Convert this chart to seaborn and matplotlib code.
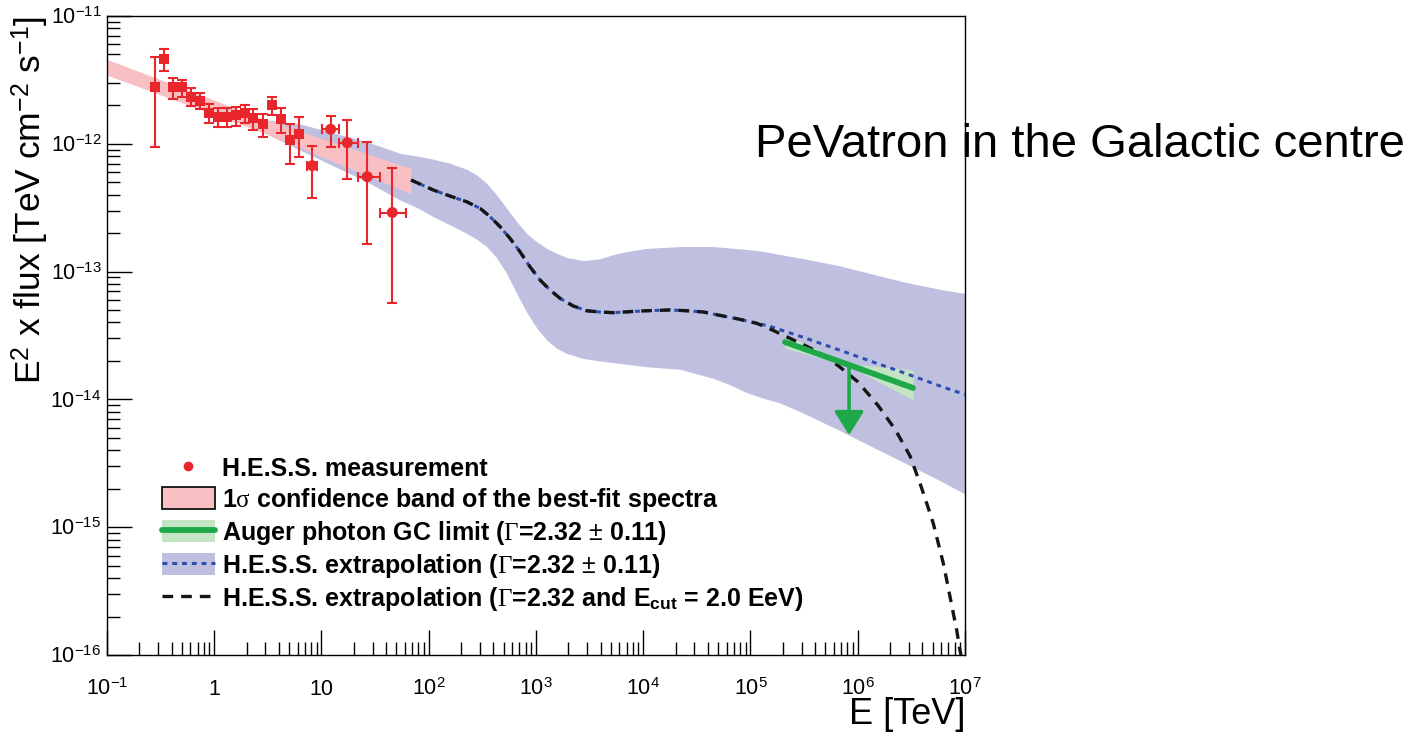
import numpy as np
import pandas as pd
import seaborn as sns
import matplotlib
matplotlib.use("Agg")
import matplotlib.pyplot as plt
from matplotlib.lines import Line2D
from matplotlib.patches import Patch
from matplotlib.ticker import LogLocator, NullFormatter, FixedLocator, FixedFormatter

# ---------------------------------------------------------------- data
# H.E.S.S. spectral points, low-energy part (square markers)
sq_E = [0.280, 0.342, 0.410, 0.497, 0.603, 0.736, 0.893, 1.091, 1.306, 1.595,
        1.935, 2.313, 2.830, 3.434, 4.165, 5.085, 6.17]
sq_F = [2.77e-12, 4.61e-12, 2.77e-12, 2.77e-12, 2.34e-12, 2.17e-12, 1.73e-12,
        1.63e-12, 1.63e-12, 1.68e-12, 1.73e-12, 1.58e-12, 1.43e-12, 2.01e-12,
        1.56e-12, 1.07e-12, 1.19e-12]
sq_hi = [4.76e-12, 5.52e-12, 3.29e-12, 3.16e-12, 2.72e-12, 2.48e-12, 2.05e-12,
         1.90e-12, 1.90e-12, 1.93e-12, 2.01e-12, 1.87e-12, 1.71e-12, 2.34e-12,
         1.92e-12, 1.43e-12, 1.61e-12]
sq_lo = [9.5e-13, 3.71e-12, 2.25e-12, 2.34e-12, 1.98e-12, 1.86e-12, 1.45e-12,
         1.36e-12, 1.36e-12, 1.38e-12, 1.46e-12, 1.28e-12, 1.14e-12, 1.68e-12,
         1.22e-12, 6.95e-13, 7.83e-13]

# H.E.S.S. spectral points, high-energy part (round markers, with bin widths)
ci_E = [8.21, 12.18, 17.40, 26.7, 45.7]
ci_E_lo = [7.37, 10.04, 14.55, 21.8, 35.1]
ci_E_hi = [9.14, 14.66, 22.0, 35.1, 61.1]
ci_F = [6.75e-13, 1.30e-12, 1.02e-12, 5.53e-13, 2.90e-13]
ci_hi = [9.66e-13, 1.66e-12, 1.53e-12, 1.03e-12, 6.50e-13]
ci_lo = [3.75e-13, 9.48e-13, 5.35e-13, 1.64e-13, 5.71e-14]

# 1 sigma band of the best-fit spectrum
fit_E = [0.1, 2.97, 68.3]
fit_hi = [4.58e-12, 1.55e-12, 6.41e-13]
fit_lo = [3.45e-12, 1.21e-12, 4.08e-13]

# extrapolation band (Gamma = 2.32 +- 0.11), absorption included
ext_E = [1.977, 6.30, 26.4, 53.9, 77.2, 110.3, 157.8, 225.8, 280.0, 347.0,
         430.1, 533.2, 660.7, 819.0, 1015, 1258, 1560, 1933, 2761, 3951,
         5257, 7523, 10770, 22010, 44990, 64410, 92170, 1.317e5, 1.884e5,
         3.141e5, 6.503e5, 1.344e6, 2.782e6, 5.746e6, 1.0e7]
ext_hi = [1.62e-12, 1.43e-12, 1.04e-12, 8.43e-13, 8.03e-13, 7.57e-13, 7.04e-13,
          6.32e-13, 5.70e-13, 4.91e-13, 3.98e-13, 3.13e-13, 2.46e-13, 1.99e-13,
          1.71e-13, 1.52e-13, 1.39e-13, 1.29e-13, 1.22e-13, 1.26e-13, 1.36e-13,
          1.45e-13, 1.52e-13, 1.57e-13, 1.57e-13, 1.53e-13, 1.49e-13, 1.44e-13,
          1.36e-13, 1.26e-13, 1.12e-13, 9.61e-14, 8.25e-14, 7.29e-14, 6.74e-14]
ext_lo = [1.43e-12, 8.94e-13, 5.05e-13, 3.63e-13, 3.18e-13, 2.69e-13, 2.32e-13,
          1.99e-13, 1.79e-13, 1.57e-13, 1.28e-13, 9.66e-14, 6.74e-14, 4.80e-14,
          3.63e-14, 2.91e-14, 2.51e-14, 2.29e-14, 2.09e-14, 2.00e-14, 1.94e-14,
          1.87e-14, 1.80e-14, 1.72e-14, 1.46e-14, 1.30e-14, 1.13e-14, 1.02e-14,
          9.37e-15, 7.78e-15, 5.81e-15, 4.28e-15, 3.16e-15, 2.33e-15, 1.82e-15]

# central extrapolated spectrum (common part)
mid_E = [68.3, 110.3, 157.8, 225.8, 300.6, 372.5, 461.6, 572.3, 709.4, 879.3,
         1090, 1350, 1674, 2227, 2970, 3951, 5257, 7523, 10770, 17760, 25420,
         36290, 55780, 79830, 1.143e5]
mid_F = [5.21e-13, 4.35e-13, 3.90e-13, 3.52e-13, 3.13e-13, 2.69e-13, 2.25e-13,
         1.82e-13, 1.43e-13, 1.09e-13, 8.60e-14, 7.18e-14, 6.18e-14, 5.38e-14,
         4.94e-14, 4.83e-14, 4.77e-14, 4.86e-14, 4.94e-14, 5.01e-14, 4.94e-14,
         4.83e-14, 4.49e-14, 4.23e-14, 3.94e-14]
# pure power-law continuation
pl_E = [1.52e5, 3.141e5, 6.503e5, 1.344e6, 2.782e6, 5.746e6, 1.0e7]
pl_F = [3.73e-14, 3.05e-14, 2.46e-14, 1.98e-14, 1.60e-14, 1.28e-14, 1.09e-14]
# continuation with E_cut = 2.0 EeV
cut_E = [1.52e5, 3.141e5, 4.524e5, 6.503e5, 1.005e6, 1.555e6, 2.235e6, 3.071e6,
         3.805e6, 4.395e6, 5.063e6, 5.636e6, 6.276e6, 6.752e6, 7.246e6, 7.779e6,
         8.369e6, 8.850e6, 9.178e6]
cut_F = [3.56e-14, 2.67e-14, 2.29e-14, 1.85e-14, 1.37e-14, 8.91e-15, 5.81e-15,
         3.61e-15, 2.21e-15, 1.54e-15, 1.07e-15, 7.48e-16, 5.22e-16, 3.86e-16,
         2.86e-16, 2.12e-16, 1.57e-16, 1.16e-16, 1.0e-16]

# Auger photon upper limit from the Galactic centre
aug_E = [2.1e5, 8.3e5, 3.27e6]
aug_F = [2.81e-14, 1.86e-14, 1.23e-14]
aug_hi = [3.19e-14, 1.90e-14, 1.70e-14]
aug_lo = [2.52e-14, 1.82e-14, 9.9e-15]
aug_arrow_E = 8.3e5
aug_arrow_F = [1.86e-14, 5.26e-15]

x_ticks = [1e-1, 1, 10, 1e2, 1e3, 1e4, 1e5, 1e6, 1e7]
x_tick_labels = [r"$10^{-1}$", "1", "10", r"$10^{2}$", r"$10^{3}$", r"$10^{4}$",
                 r"$10^{5}$", r"$10^{6}$", r"$10^{7}$"]
y_ticks = [1e-16, 1e-15, 1e-14, 1e-13, 1e-12, 1e-11]
y_tick_labels = [r"$10^{-16}$", r"$10^{-15}$", r"$10^{-14}$", r"$10^{-13}$",
                 r"$10^{-12}$", r"$10^{-11}$"]

legend_labels = [
    "H.E.S.S. measurement",
    r"1$\sigma$ confidence band of the best-fit spectra",
    r"Auger photon GC limit ($\mathcal{\Gamma}$=2.32 $\pm$ 0.11)",
    r"H.E.S.S. extrapolation ($\mathcal{\Gamma}$=2.32 $\pm$ 0.11)",
    r"H.E.S.S. extrapolation ($\mathcal{\Gamma}$=2.32 and E$_{\mathbf{cut}}$ = 2.0 EeV)",
]

# ---------------------------------------------------------------- style
RED = "#e8262b"
PINK = "#f8c0c3"
BAND = "#bfc0e0"
BLUE = "#2f4fb0"
GREEN = "#1ea84a"
LGREEN = "#c3e5c4"

sns.set_theme(style="ticks", rc={
    "axes.edgecolor": "black", "axes.linewidth": 1.0,
    "xtick.color": "black", "ytick.color": "black",
    "text.color": "black", "axes.labelcolor": "black",
})
plt.rcParams["font.family"] = ["Liberation Sans", "DejaVu Sans"]
plt.rcParams["mathtext.fontset"] = "custom"
plt.rcParams["mathtext.rm"] = "Liberation Sans"
plt.rcParams["mathtext.it"] = "Liberation Serif"
plt.rcParams["mathtext.cal"] = "Liberation Serif"
plt.rcParams["mathtext.bf"] = "Liberation Sans:bold"

W, H = 1418, 736
fig = plt.figure(figsize=(W / 100, H / 100), dpi=100)
ax = fig.add_axes([107 / W, (H - 655) / H, (965 - 107) / W, (655 - 16) / H])
ax.set_xscale("log")
ax.set_yscale("log")

# bands
ax.fill_between(ext_E, ext_lo, ext_hi, color=BAND, lw=0, zorder=1)
ax.fill_between(fit_E, fit_lo, fit_hi, color=PINK, lw=0, zorder=2)
ax.fill_between(aug_E, aug_lo, aug_hi, color=LGREEN, lw=0, zorder=3)

# extrapolated spectra
DOT = (0, (1.6, 1.6))
DASH = (0, (3.2, 2.4))
sns.lineplot(x=mid_E + pl_E, y=mid_F + pl_F, ax=ax, color=BLUE, lw=2.2,
             linestyle=DOT, estimator=None, sort=False, zorder=4)
sns.lineplot(x=mid_E + cut_E, y=mid_F + cut_F, ax=ax, color="#151515", lw=2.4,
             linestyle=DASH, estimator=None, sort=False, zorder=5)

# Auger limit with arrow
sns.lineplot(x=aug_E, y=aug_F, ax=ax, color=GREEN, lw=4.2, estimator=None,
             sort=False, zorder=6)
ax.annotate("", xy=(aug_arrow_E, aug_arrow_F[1]), xytext=(aug_arrow_E, aug_arrow_F[0]),
            arrowprops=dict(arrowstyle="-|>,head_length=0.72,head_width=0.45",
                            mutation_scale=20, lw=2.6, color=GREEN,
                            shrinkA=0, shrinkB=0), zorder=6)

# H.E.S.S. points
sq_F_a = np.array(sq_F)
ax.errorbar(sq_E, sq_F, yerr=[sq_F_a - np.array(sq_lo), np.array(sq_hi) - sq_F_a],
            fmt="none", ecolor=RED, elinewidth=1.5, capsize=3.5, capthick=1.5, zorder=7)
ci_E_a = np.array(ci_E)
ci_F_a = np.array(ci_F)
ax.errorbar(ci_E, ci_F,
            xerr=[ci_E_a - np.array(ci_E_lo), np.array(ci_E_hi) - ci_E_a],
            yerr=[ci_F_a - np.array(ci_lo), np.array(ci_hi) - ci_F_a],
            fmt="none", ecolor=RED, elinewidth=1.5, capsize=3.5, capthick=1.5, zorder=7)
sns.scatterplot(x=sq_E, y=sq_F, ax=ax, marker="s", s=52, color=RED,
                edgecolor="none", zorder=8)
sns.scatterplot(x=ci_E, y=ci_F, ax=ax, marker="o", s=62, color=RED,
                edgecolor="none", zorder=8)

# axes
ax.set_xlim(0.1, 1e7)
ax.set_ylim(1e-16, 1e-11)
ax.xaxis.set_major_locator(FixedLocator(x_ticks))
ax.xaxis.set_major_formatter(FixedFormatter(x_tick_labels))
ax.yaxis.set_major_locator(FixedLocator(y_ticks))
ax.yaxis.set_major_formatter(FixedFormatter(y_tick_labels))
ax.xaxis.set_minor_locator(LogLocator(base=10, subs=np.arange(2, 10), numticks=100))
ax.yaxis.set_minor_locator(LogLocator(base=10, subs=np.arange(2, 10), numticks=100))
ax.xaxis.set_minor_formatter(NullFormatter())
ax.yaxis.set_minor_formatter(NullFormatter())
ax.tick_params(which="major", direction="in", length=18, width=1.0,
               top=False, right=False, labelsize=15.5)
ax.tick_params(which="minor", direction="in", length=9.5, width=1.0,
               top=False, right=False)
ax.tick_params(axis="y", which="major", pad=4)
ax.tick_params(axis="x", which="major", pad=17)
for s in ax.spines.values():
    s.set_visible(True)
    s.set_color("black")
    s.set_linewidth(1.0)
ax.set_xlabel("")
ax.set_ylabel("")

ax.text((31 - 107) / 858, 1.0, r"E$^{2}$ x flux [TeV cm$^{-2}$ s$^{-1}$]", rotation=90,
        ha="center", va="top", fontsize=25.5, transform=ax.transAxes)
fig.text(965 / W, 1 - 715 / H, "E [TeV]", ha="right", va="center", fontsize=26)
fig.text(755 / W, 1 - 157 / H, "PeVatron in the Galactic centre", ha="left",
         va="baseline", fontsize=34)

# legend
handles = [
    Line2D([], [], marker="o", color=RED, linestyle="none", markersize=6),
    Patch(facecolor=PINK, edgecolor="black", linewidth=1.2),
    (Patch(facecolor=LGREEN, edgecolor="none"), Line2D([], [], color=GREEN, lw=4.2)),
    (Patch(facecolor=BAND, edgecolor="none"),
     Line2D([], [], color=BLUE, lw=2.2, linestyle=DOT)),
    Line2D([], [], color="#151515", lw=2.4, linestyle=DASH),
]
ax.legend(handles, legend_labels, loc="upper left",
          bbox_to_anchor=(162 / W, 1 - 456 / H), bbox_transform=fig.transFigure,
          frameon=False, borderpad=0, borderaxespad=0, handlelength=2.1,
          handleheight=1.0, handletextpad=0.3, labelspacing=0.2,
          prop={"weight": "bold", "size": 18})

fig.savefig("out.png", dpi=100)
